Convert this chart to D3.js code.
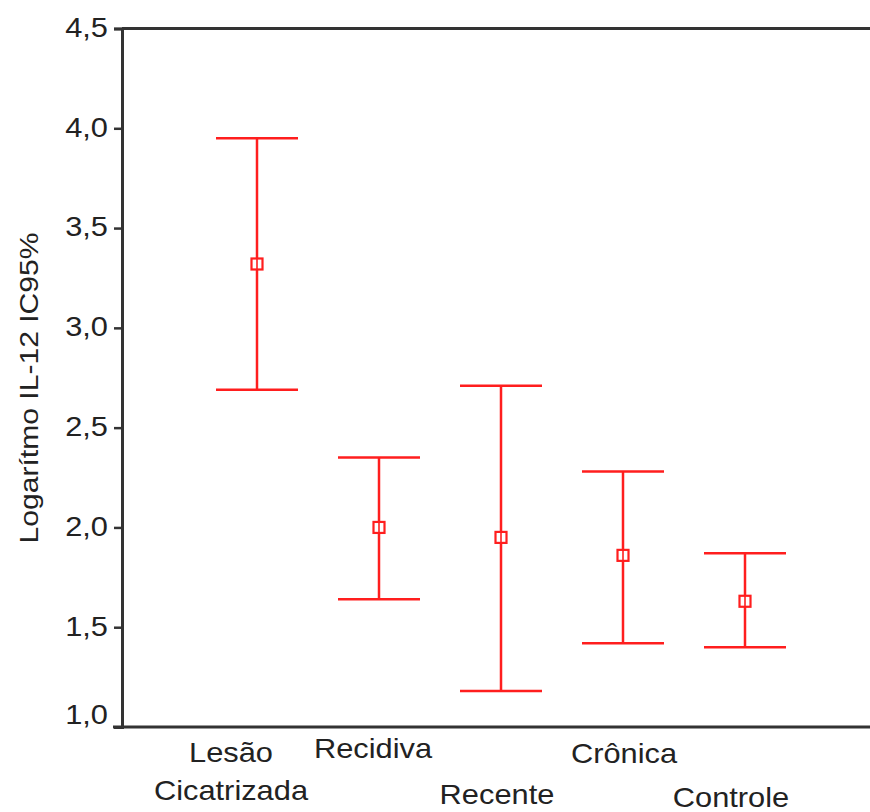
<!DOCTYPE html>
<html>
<head>
<meta charset="utf-8">
<script src="https://cdn.jsdelivr.net/npm/d3@7"></script>
<style>
  html, body { margin: 0; padding: 0; background: #fff; }
  svg { display: block; }
  text { font-family: "Liberation Sans", Arial, sans-serif; fill: #222; }
</style>
</head>
<body>
<svg id="chart" width="870" height="812"></svg>
<script>
// ---- data ----
const categories = ["Lesão Cicatrizada", "Recidiva", "Recente", "Crônica", "Controle"];
const labelLines = [["Lesão", "Cicatrizada"], ["Recidiva"], ["Recente"], ["Crônica"], ["Controle"]];
const means = [3.32, 2.00, 1.95, 1.86, 1.63];
const lower = [2.69, 1.64, 1.18, 1.42, 1.40];
const upper = [3.95, 2.35, 2.71, 2.28, 1.87];
const yTicks = [1.0, 1.5, 2.0, 2.5, 3.0, 3.5, 4.0, 4.5];
const yTitle = "Logarítmo IL-12 IC95%";

// label placement (staggered as in the original)
const labelDx = [-26, -6, -4, 1, -14];
const labelY = [[762, 800], [758], [804], [763], [807]];

const svg = d3.select("#chart");
const red = "#ff1e1e";
const axisColor = "#333";
const stretch = 1.1;

const y = d3.scaleLinear().domain([1.0, 4.5]).range([727, 28.5]);
const x = d3.scaleBand().domain(categories).range([196, 806]);
const cx = d => x(d) + x.bandwidth() / 2;

// frame: top line, left axis, bottom line
const xLeft = 122, xRight = 872;
svg.append("line").attr("x1", xLeft).attr("x2", xRight).attr("y1", y(4.5)).attr("y2", y(4.5))
  .attr("stroke", axisColor).attr("stroke-width", 3);
svg.append("line").attr("x1", 113).attr("x2", xRight).attr("y1", y(1.0)).attr("y2", y(1.0))
  .attr("stroke", axisColor).attr("stroke-width", 3);

// y axis
const yAxis = d3.axisLeft(y).tickValues(yTicks).tickSize(8).tickPadding(6)
  .tickFormat(d => d3.format(".1f")(d).replace(".", ","));
const gy = svg.append("g").attr("transform", `translate(${xLeft},0)`).call(yAxis);
gy.select(".domain").attr("stroke", axisColor).attr("stroke-width", 3);
gy.selectAll(".tick line").attr("stroke", axisColor).attr("stroke-width", 2.5);
gy.selectAll(".tick text")
  .style("font-family", '"Liberation Sans", Arial, sans-serif')
  .style("font-size", "28px").attr("fill", "#222")
  .attr("dy", d => d === 1.0 ? "-0.12em" : "0.28em")
  .each(function() {
    const w = this.getComputedTextLength();
    d3.select(this).attr("textLength", w * stretch).attr("lengthAdjust", "spacingAndGlyphs");
  });

// y title
svg.append("text")
  .attr("transform", `translate(38,388) rotate(-90)`)
  .attr("text-anchor", "middle")
  .attr("textLength", 311).attr("lengthAdjust", "spacingAndGlyphs")
  .style("font-size", "26px")
  .text(yTitle);

// error bars
const capHalf = 41;
const g = svg.append("g");
categories.forEach((c, i) => {
  const xc = cx(c);
  g.append("line").attr("x1", xc).attr("x2", xc).attr("y1", y(upper[i])).attr("y2", y(lower[i]))
    .attr("stroke", red).attr("stroke-width", 2.5);
  g.append("line").attr("x1", xc - capHalf).attr("x2", xc + capHalf).attr("y1", y(upper[i])).attr("y2", y(upper[i]))
    .attr("stroke", red).attr("stroke-width", 2.5);
  g.append("line").attr("x1", xc - capHalf).attr("x2", xc + capHalf).attr("y1", y(lower[i])).attr("y2", y(lower[i]))
    .attr("stroke", red).attr("stroke-width", 2.5);
  g.append("rect").attr("x", xc - 5.5).attr("y", y(means[i]) - 5.5).attr("width", 11).attr("height", 11)
    .attr("fill", "#fff").attr("stroke", red).attr("stroke-width", 2.2);
  g.append("line").attr("x1", xc).attr("x2", xc).attr("y1", y(means[i]) - 5.5).attr("y2", y(means[i]) + 5.5)
    .attr("stroke", red).attr("stroke-width", 1.6);
});

// x labels
categories.forEach((c, i) => {
  labelLines[i].forEach((ln, j) => {
    const t = svg.append("text")
      .attr("x", cx(c) + labelDx[i]).attr("y", labelY[i][j])
      .attr("text-anchor", "middle")
      .style("font-size", "28px")
      .text(ln);
    const w = t.node().getComputedTextLength();
    t.attr("textLength", w * stretch).attr("lengthAdjust", "spacingAndGlyphs");
  });
});
</script>
</body>
</html>
